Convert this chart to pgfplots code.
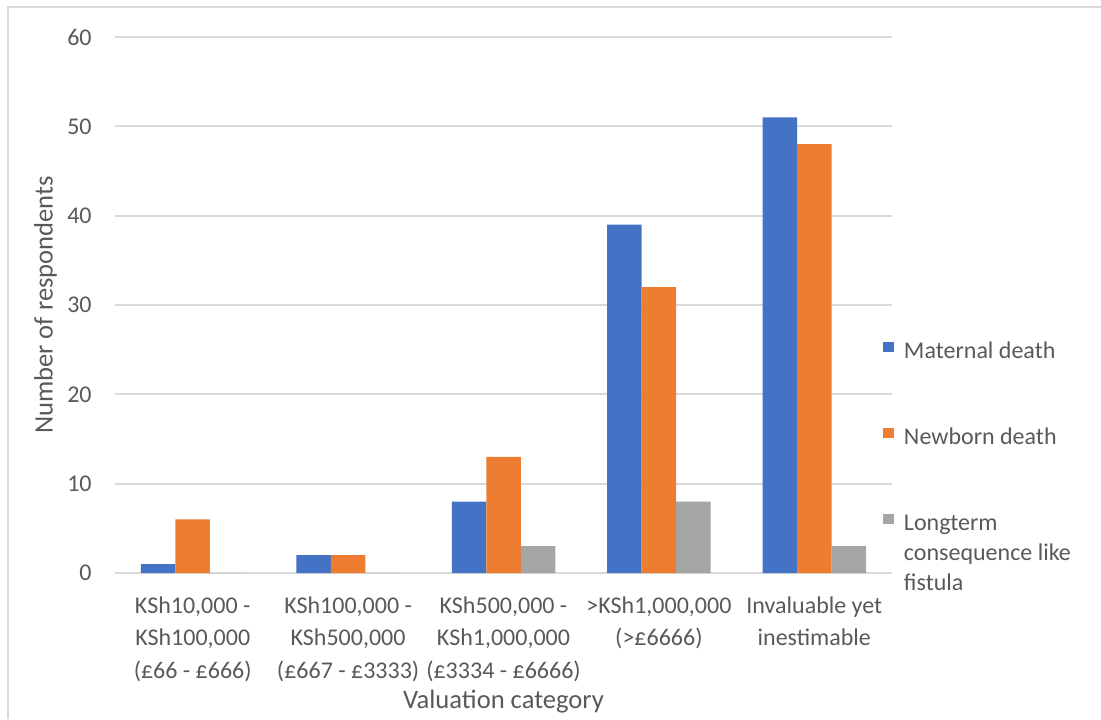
\documentclass[border=0pt]{standalone}
\usepackage{fontspec}
\setmainfont{Carlito}
\usepackage{pgfplots}
\pgfplotsset{compat=1.18}
\definecolor{cblue}{HTML}{4472C4}
\definecolor{corange}{HTML}{ED7D31}
\definecolor{cgray}{HTML}{A5A5A5}
\definecolor{textgray}{HTML}{595959}
\definecolor{gridgray}{HTML}{D9D9D9}
\begin{document}
\begin{tikzpicture}
\path[use as bounding box] (0,0) rectangle (550.5pt,359.5pt);
\draw[gridgray, line width=1pt] (4pt,0pt) -- (4pt,356pt) -- (550.5pt,356pt);
\begin{axis}[
  at={(57.5pt,73pt)}, anchor=south west,
  scale only axis, width=388.5pt, height=268pt,
  ybar=0pt, bar width=17.25pt,
  xmin=-0.5, xmax=4.5, ymin=0, ymax=60, enlargelimits=false,
  ytick={0,10,...,60},
  xtick={0,1,2,3,4},
  xticklabels={{KSh10,000 -\\KSh100,000\\(£66 - £666)},
               {KSh100,000 -\\KSh500,000\\(£667 - £3333)},
               {KSh500,000 -\\KSh1,000,000\\(£3334 - £6666)},
               {>KSh1,000,000\\(>£6666)},
               {Invaluable yet\\inestimable}},
  axis line style={draw=none},
  major tick length=0pt,
  ymajorgrids, grid style={gridgray, line width=1pt},
  /pgf/number format/assume math mode=true,
  tick label style={font=\fontsize{12}{16.3}\selectfont, text=textgray},
  yticklabel style={anchor=east, inner sep=0pt, xshift=-11.5pt},
  xticklabel style={align=center, anchor=north, inner sep=0pt, yshift=-11.5pt},
  label style={font=\fontsize{13.3}{16}\selectfont, text=textgray},
  xlabel={Valuation category},
  xlabel style={at={(axis description cs:0.5,0)}, anchor=base, yshift=-67.5pt},
  ylabel={Number of respondents},
  ylabel style={at={(axis description cs:-0.0802,0.5)}, anchor=base},
  legend cell align=left,
  legend image code/.code={\fill[#1] (0pt,0pt) rectangle (5.3pt,5.3pt);},
  legend style={at={(0.9884,0.4347)}, anchor=north west, draw=none, fill=none,
    inner sep=0pt, row sep=31pt, column sep=5pt,
    font=\fontsize{12}{15}\selectfont, text=textgray,
    nodes={inner sep=0pt, text height=9pt, text depth=3pt}},
]
\addplot[fill=cblue, draw=none] coordinates {(0,1) (1,2) (2,8) (3,39) (4,51)};
\addlegendentry{Maternal death}
\addplot[fill=corange, draw=none] coordinates {(0,6) (1,2) (2,13) (3,32) (4,48)};
\addlegendentry{Newborn death}
\addplot[fill=cgray, draw=none] coordinates {(0,0) (1,0) (2,3) (3,8) (4,3)};
\addlegendentry{\begin{tabular}[t]{@{}l@{}}Longterm\\consequence like\\fistula\end{tabular}}
\end{axis}
\end{tikzpicture}
\end{document}
